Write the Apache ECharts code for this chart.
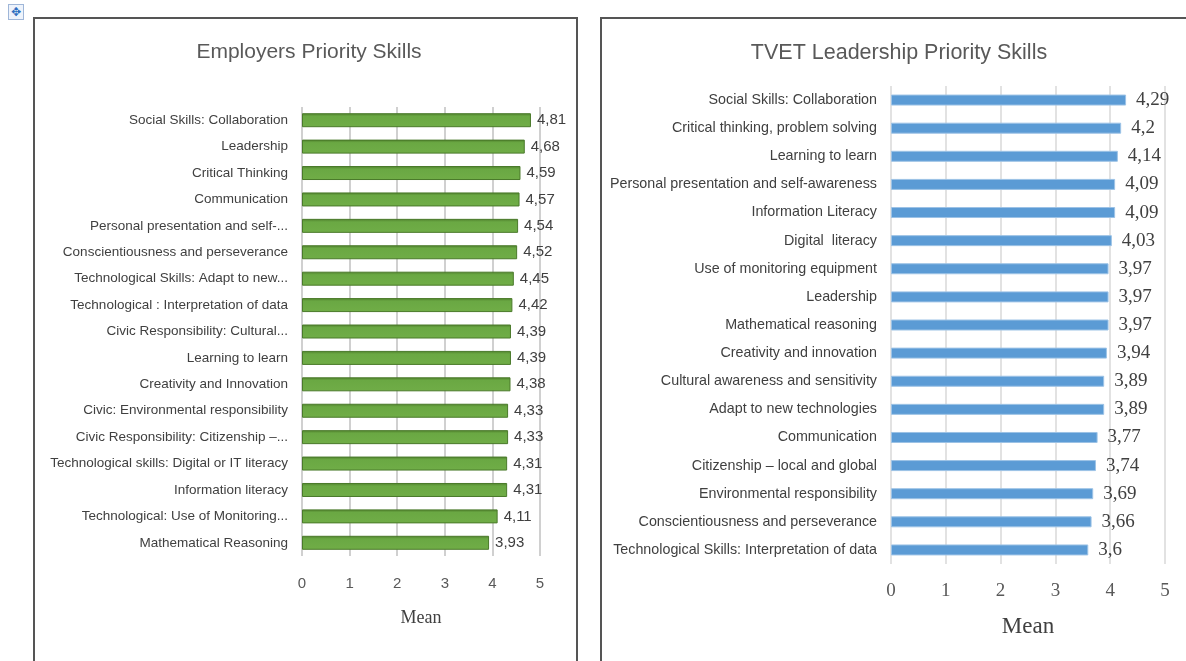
<!DOCTYPE html>
<html>
<head>
<meta charset="utf-8">
<script src="https://cdn.jsdelivr.net/npm/echarts@6/dist/echarts.min.js"></script>
<style>
  html, body { margin: 0; padding: 0; background: #fff; }
  #page { position: relative; width: 1186px; height: 661px; overflow: hidden; }
  .box { position: absolute; border: 2px solid #555; border-bottom-color: #ccc; }
  #boxLeft { left: 33px; top: 17px; width: 541px; height: 646px; }
  #boxRight { left: 600px; top: 17px; width: 600px; height: 660px; }
  #handle { position: absolute; left: 8px; top: 4px; width: 14px; height: 14px;
    border: 1px solid #9fb6d8; background: #eef3fb; color: #2f6fc0;
    font: 12px/14px 'DejaVu Sans'; text-align: center; }
  #main { position: absolute; left: 0; top: 0; width: 1186px; height: 661px; }
</style>
</head>
<body>
<div id="page">
  <div id="handle">✥</div>
  <div class="box" id="boxLeft"></div>
  <div class="box" id="boxRight"></div>
  <div id="main"></div>
</div>
<script>
// Employers chart (top to bottom)
const empSkills = [
  'Social Skills: Collaboration',
  'Leadership',
  'Critical Thinking',
  'Communication',
  'Personal presentation and self-...',
  'Conscientiousness and perseverance',
  'Technological Skills: Adapt to new...',
  'Technological : Interpretation of data',
  'Civic Responsibility: Cultural...',
  'Learning to learn',
  'Creativity and Innovation',
  'Civic: Environmental responsibility',
  'Civic Responsibility: Citizenship –...',
  'Technological skills: Digital or IT literacy',
  'Information literacy',
  'Technological: Use of Monitoring...',
  'Mathematical Reasoning'
];
const empMeans = [4.81, 4.68, 4.59, 4.57, 4.54, 4.52, 4.45, 4.42, 4.39, 4.39, 4.38, 4.33, 4.33, 4.31, 4.31, 4.11, 3.93];

// TVET leadership chart (top to bottom)
const tvetSkills = [
  'Social Skills: Collaboration',
  'Critical thinking, problem solving',
  'Learning to learn',
  'Personal presentation and self-awareness',
  'Information Literacy',
  'Digital  literacy',
  'Use of monitoring equipment',
  'Leadership',
  'Mathematical reasoning',
  'Creativity and innovation',
  'Cultural awareness and sensitivity',
  'Adapt to new technologies',
  'Communication',
  'Citizenship – local and global',
  'Environmental responsibility',
  'Conscientiousness and perseverance',
  'Technological Skills: Interpretation of data'
];
const tvetMeans = [4.29, 4.2, 4.14, 4.09, 4.09, 4.03, 3.97, 3.97, 3.97, 3.94, 3.89, 3.89, 3.77, 3.74, 3.69, 3.66, 3.6];

const axisTicks = [0, 1, 2, 3, 4, 5];

const sans = "'Liberation Sans', 'Noto Sans', sans-serif";
const serif = "'Liberation Serif', 'DejaVu Serif', serif";

// comma decimal like the original
const comma = v => String(v).replace('.', ',');

const chart = echarts.init(document.getElementById('main'));

const option = {
  animation: false,
  title: [
    {
      text: 'Employers Priority Skills',
      left: 304, top: 37, textAlign: 'center',
      textStyle: { fontFamily: sans, fontSize: 21, fontWeight: 'normal', color: '#595959' }
    },
    {
      text: 'TVET Leadership Priority Skills',
      left: 894, top: 37, textAlign: 'center',
      textStyle: { fontFamily: sans, fontSize: 21.5, fontWeight: 'normal', color: '#595959' }
    }
  ],
  grid: [
    { left: 302, top: 107, width: 238, height: 449 },
    { left: 891, top: 86, width: 274, height: 478 }
  ],
  xAxis: [
    {
      gridIndex: 0, type: 'value', min: axisTicks[0], max: axisTicks[axisTicks.length - 1], interval: 1,
      name: 'Mean', nameLocation: 'middle', nameGap: 53,
      nameTextStyle: { fontFamily: serif, fontSize: 18, color: '#404040' },
      axisLine: { show: false }, axisTick: { show: false },
      axisLabel: { margin: 20, fontFamily: sans, fontSize: 15, color: '#595959' },
      splitLine: { lineStyle: { color: '#c0c0c0', width: 1.5 } }
    },
    {
      gridIndex: 1, type: 'value', min: axisTicks[0], max: axisTicks[axisTicks.length - 1], interval: 1,
      name: 'Mean', nameLocation: 'middle', nameGap: 51,
      nameTextStyle: { fontFamily: serif, fontSize: 23, color: '#404040' },
      axisLine: { show: false }, axisTick: { show: false },
      axisLabel: { margin: 18, fontFamily: serif, fontSize: 19, color: '#595959' },
      splitLine: { lineStyle: { color: '#d9d9d9', width: 1.5 } }
    }
  ],
  yAxis: [
    {
      gridIndex: 0, type: 'category', inverse: true, data: empSkills,
      axisLine: { show: false }, axisTick: { show: false },
      axisLabel: { margin: 14, fontFamily: sans, fontSize: 13.5, color: '#404040' }
    },
    {
      gridIndex: 1, type: 'category', inverse: true, data: tvetSkills,
      axisLine: { show: false }, axisTick: { show: false },
      axisLabel: { margin: 14, fontFamily: sans, fontSize: 14.3, color: '#404040' }
    }
  ],
  series: [
    {
      name: 'Employers', type: 'bar', xAxisIndex: 0, yAxisIndex: 0,
      data: empMeans, barWidth: 14,
      itemStyle: {
        color: new echarts.graphic.LinearGradient(0, 0, 0, 1, [
          { offset: 0, color: '#4f7f2c' },
          { offset: 0.22, color: '#6aa843' },
          { offset: 1, color: '#70ad47' }
        ]),
        borderColor: '#4a7a2a', borderWidth: 1
      },
      label: {
        show: true, position: 'right', distance: 6, formatter: p => comma(p.value),
        fontFamily: sans, fontSize: 15, color: '#404040'
      }
    },
    {
      name: 'TVET', type: 'bar', xAxisIndex: 1, yAxisIndex: 1,
      data: tvetMeans, barWidth: 11,
      itemStyle: { color: '#5b9bd5', borderColor: '#9dc3e6', borderWidth: 1 },
      label: {
        show: true, position: 'right', distance: 10, formatter: p => comma(p.value),
        fontFamily: serif, fontSize: 19, color: '#404040'
      }
    }
  ]
};

chart.setOption(option);
</script>
</body>
</html>
